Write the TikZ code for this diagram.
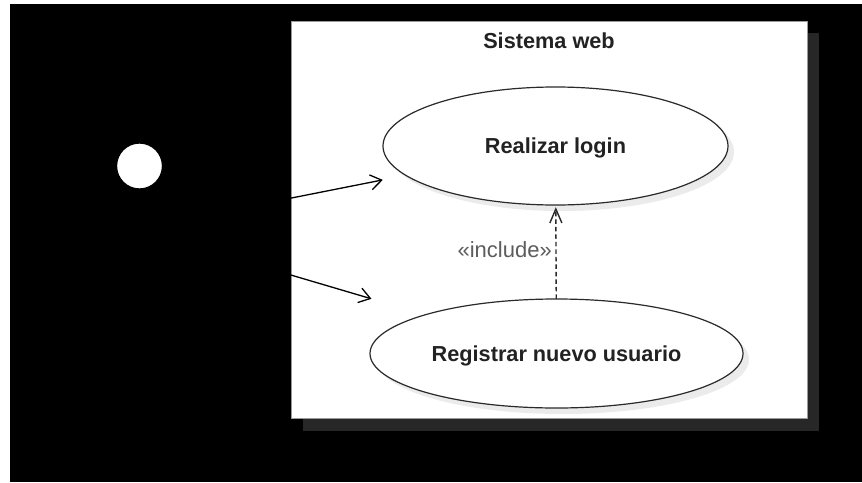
\documentclass[tikz,border=0pt]{standalone}
\usepackage{fontspec}
\setmainfont{Liberation Sans}
\usetikzlibrary{arrows.meta}

\definecolor{boxshade}{HTML}{272727}
\definecolor{ovalshade}{HTML}{EBEBEB}
\definecolor{inktext}{HTML}{222222}
\definecolor{inkline}{HTML}{2A2A2A}
\definecolor{stereo}{HTML}{5C5C5C}
\definecolor{rimgray}{HTML}{9A9A9A}

\begin{document}
\begin{tikzpicture}[x=1pt, y=-1pt,
  label text/.style={font=\fontsize{21.7}{26}\selectfont\bfseries, text=inktext},
  usecase/.style={rectangle, inner sep=0pt, text height=15.5pt, text depth=0pt,
    label text},
  oval/.style={draw=inkline, line width=1.2pt, fill=white},
  ovalshadow/.style={fill=ovalshade},
  assoc/.style={draw=black, line width=1.3pt,
    -{Straight Barb[length=11pt, width=15pt]}},
  dep/.style={draw=inkline, line width=1.4pt, dash pattern=on 4.5pt off 3pt,
    -{Straight Barb[length=14pt, width=12pt]}},
  stereotype/.style={font=\fontsize{22}{26}\selectfont, text=stereo,
    inner sep=0pt, text height=15.5pt, text depth=0pt},
  stickman/.style={draw=black, line width=1.3pt}
]
  % canvas
  \useasboundingbox (0,0) rectangle (862,482);
  \fill[white] (0,0) rectangle (862,482);
  \fill[black] (9.5,4) rectangle (862,482);

  % system boundary with its drop shadow
  \fill[boxshade] (303,33) rectangle (819,431);
  \filldraw[fill=white, draw=rimgray, line width=1pt] (291,21) rectangle (807,418);
  \node[label text, anchor=base] (title) at (549,48.5) {Sistema web};

  % actor: white head, stick body
  \node[circle, fill=white, draw=black, line width=1.3pt, minimum size=46pt,
        inner sep=0pt] (head) at (139.5,166) {};
  \draw[stickman] (head.south) -- ++(0,81) coordinate (hip);
  \draw[stickman] (100,210) -- (180,210);
  \draw[stickman] (hip) -- (100,327);
  \draw[stickman] (hip) -- (180,327);
  \node[rectangle, inner sep=0pt, minimum width=60pt, minimum height=150pt]
        (actor) at (135,229) {};

  % use case ovals
  \coordinate (loginc) at (555.5,146);
  \coordinate (registerc) at (556.5,353.5);
  \fill[ovalshadow] ([shift={(6,6)}]loginc) ellipse [x radius=172.5, y radius=59];
  \draw[oval] (loginc) ellipse [x radius=172.5, y radius=59];
  \fill[ovalshadow] ([shift={(6,6)}]registerc) ellipse [x radius=186.5, y radius=54.5];
  \draw[oval] (registerc) ellipse [x radius=186.5, y radius=54.5];

  \node[usecase, minimum width=345pt, minimum height=118pt] (login) at (loginc)
        {Realizar login};
  \node[usecase, minimum width=373pt, minimum height=109pt] (register) at (registerc)
        {Registrar nuevo usuario};

  % associations and include dependency
  \draw[assoc] (actor) -- (login);
  \draw[assoc] (actor) -- (register);
  \draw[dep, shorten >=2pt] (register) -- (login)
        node[pos=0.52, left=3.5pt, stereotype] (inc) {«include»};
\end{tikzpicture}
\end{document}
